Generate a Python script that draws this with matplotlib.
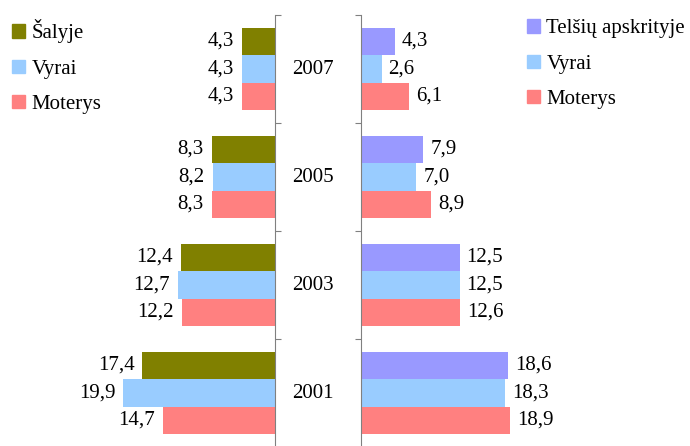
import matplotlib.pyplot as plt
import numpy as np
from matplotlib.patches import Patch

plt.rcParams['font.family'] = ['Liberation Serif', 'DejaVu Serif']

years = ['2001', '2003', '2005', '2007']
salyje = [17.4, 12.4, 8.3, 4.3]
vyrai_lt = [19.9, 12.7, 8.2, 4.3]
moterys_lt = [14.7, 12.2, 8.3, 4.3]
telsiai = [18.6, 12.5, 7.9, 4.3]
vyrai_t = [18.3, 12.5, 7.0, 2.6]
moterys_t = [18.9, 12.6, 8.9, 6.1]

c_olive = '#808000'
c_blue = '#99CCFF'
c_red = '#FF8080'
c_purple = '#9999FF'

W, H = 690, 446
fig = plt.figure(figsize=(W / 100, H / 100), dpi=100)
top = 1 - 15 / H
ax_l = fig.add_axes([0, -1 / H, 275 / W, top + 1 / H])
ax_r = fig.add_axes([361 / W, -1 / H, (W - 361) / W, top + 1 / H])

y = np.arange(len(years))
h = 0.255
fs = 15

def fmt(v):
    return f'{v:.1f}'.replace('.', ',')

def draw(ax, series, colors, side):
    for off, vals, col in zip([h, 0, -h], series, colors):
        bars = ax.barh(y + off, vals, height=h, color=col, linewidth=0)
        for b, v in zip(bars, vals):
            dx = -8 if side == 'left' else 7
            ax.annotate(fmt(v), (v, b.get_y() + h / 2), xytext=(dx * 0.72, 0),
                        textcoords='offset points', va='center',
                        ha='right' if side == 'left' else 'left', fontsize=fs)
    ax.set_ylim(-0.5, 3.5)
    ax.set_yticks(np.arange(-0.5, 3.6, 1))
    ax.set_yticklabels([])
    ax.set_xticks([])
    for s in ['top', 'bottom', 'left', 'right']:
        ax.spines[s].set_visible(False)
    ax.patch.set_visible(False)

draw(ax_l, [salyje, vyrai_lt, moterys_lt], [c_olive, c_blue, c_red], 'left')
ax_l.set_xlim(36.1, 0)
ax_l.spines['right'].set_visible(True)
ax_l.spines['right'].set_color('#808080')
ax_l.yaxis.tick_right()
ax_l.tick_params(axis='y', direction='out', length=4.5, color='#808080')

draw(ax_r, [telsiai, vyrai_t, moterys_t], [c_purple, c_blue, c_red], 'right')
ax_r.set_xlim(0, 41.7)
ax_r.spines['left'].set_visible(True)
ax_r.spines['left'].set_color('#808080')
ax_r.tick_params(axis='y', direction='out', length=4.5, color='#808080')

for i, yr in enumerate(years):
    yc = ax_l.transData.transform((0, i))[1]
    fig.text(312.5 / W, yc / (H), yr, ha='center', va='center', fontsize=fs)

leg_kw = dict(loc='upper left', frameon=False, fontsize=fs, handlelength=0.62,
              handleheight=0.62, handletextpad=0.3, labelspacing=0.78,
              borderaxespad=0)
fig.legend([Patch(color=c) for c in [c_olive, c_blue, c_red]],
           ['Šalyje', 'Vyrai', 'Moterys'],
           bbox_to_anchor=(4 / W, 1 - 11 / H), **leg_kw)
fig.legend([Patch(color=c) for c in [c_purple, c_blue, c_red]],
           ['Telšių apskrityje', 'Vyrai', 'Moterys'],
           bbox_to_anchor=(519 / W, 1 - 11 / H), **leg_kw)

fig.savefig('out.png', dpi=100)
